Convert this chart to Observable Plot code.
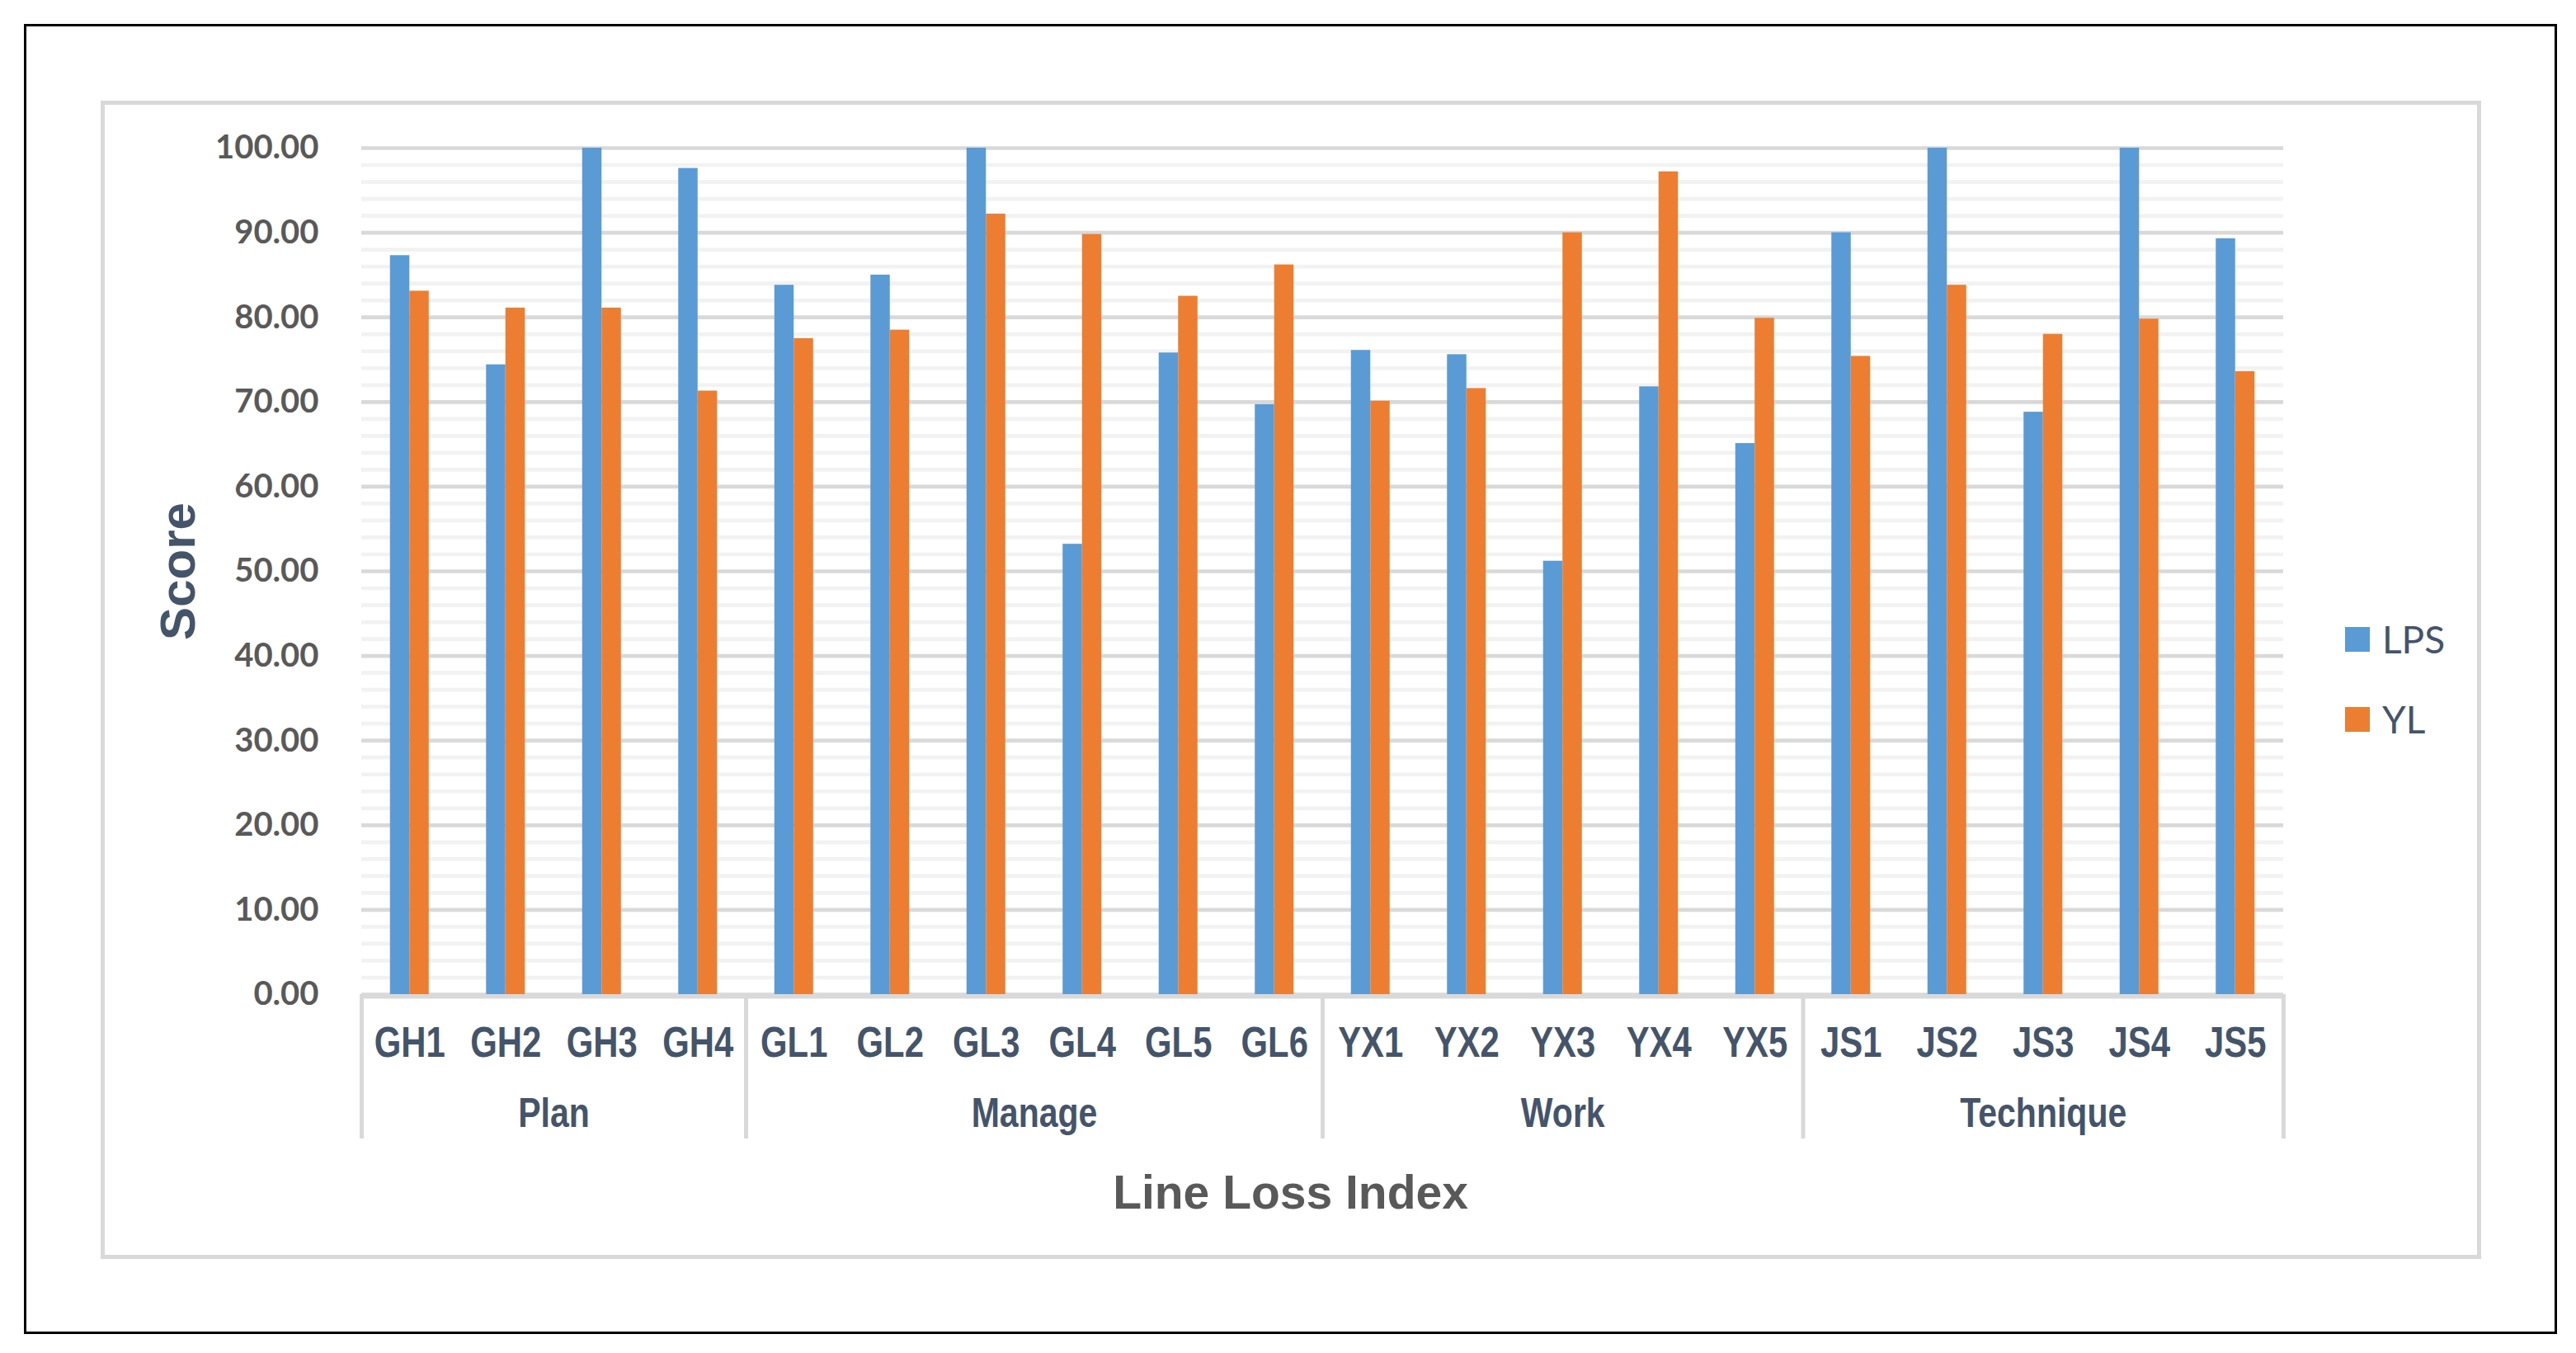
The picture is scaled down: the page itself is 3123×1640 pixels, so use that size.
<!DOCTYPE html>
<html>
<head>
<meta charset="utf-8">
<script src="https://cdn.jsdelivr.net/npm/d3@7"></script>
<script src="https://cdn.jsdelivr.net/npm/@observablehq/plot@0.6"></script>
<style>
  html, body { margin: 0; padding: 0; background: #fff; }
  #page { position: relative; width: 3123px; height: 1640px; overflow: hidden; background: #fff; }
  #outer { position: absolute; left: 29px; top: 29px; width: 3071px; height: 1588px; border: 3px solid #000; box-sizing: border-box; }
  #inner { position: absolute; left: 122px; top: 122px; width: 2886px; height: 1404px; border: 5px solid #d9d9d9; box-sizing: border-box; }
  #chart { position: absolute; left: 0; top: 0; }
  #legend { position: absolute; left: 2843px; top: 751px; font-family: Lato, "Open Sans", sans-serif; font-size: 46px; color: #44546a; }
  .item { display: flex; align-items: center; height: 47px; line-height: 1; margin-bottom: 50px; }
  .sw { width: 30px; height: 30px; margin-right: 15px; }
</style>
</head>
<body>
<div id="page">
  <div id="outer"></div>
  <div id="inner"></div>
  <div id="chart"></div>
  <div id="legend"></div>
</div>
<script>
const categories = ["GH1","GH2","GH3","GH4","GL1","GL2","GL3","GL4","GL5","GL6","YX1","YX2","YX3","YX4","YX5","JS1","JS2","JS3","JS4","JS5"];
const groups = ["Plan","Manage","Work","Technique"];
const groupSizes = [4, 6, 5, 5];
const series = ["LPS", "YL"];
const lps = [87.3, 74.4, 100, 97.6, 83.8, 85.0, 100, 53.2, 75.8, 69.7, 76.1, 75.6, 51.2, 71.8, 65.1, 90.0, 100, 68.8, 100, 89.3];
const yl  = [83.1, 81.1, 81.1, 71.3, 77.5, 78.5, 92.2, 89.8, 82.5, 86.2, 70.1, 71.6, 90.0, 97.2, 79.9, 75.4, 83.8, 78.0, 79.8, 73.6];
const colors = ["#5b9bd5", "#ed7d31"];
const majorTicks = [0, 10, 20, 30, 40, 50, 60, 70, 80, 90, 100];
const minorTicks = d3.range(0, 101, 2).filter(v => v % 10 !== 0);

const table = [];
categories.forEach((c, i) => {
  table.push({category: c, index: i, series: "LPS", value: lps[i], k: 0});
  table.push({category: c, index: i, series: "YL", value: yl[i], k: 1});
});
const barW = 0.2017; // bar width as fraction of a category slot

const groupTable = [];
let start = 0;
groups.forEach((g, j) => {
  groupTable.push({name: g, start, end: start + groupSizes[j]});
  start += groupSizes[j];
});
const boundaries = [0, ...groupTable.map(g => g.end)];

const boldFont = '"Liberation Sans", Arial, sans-serif';

const plot = Plot.plot({
  width: 3123,
  height: 1640,
  marginLeft: 438,
  marginRight: 355,
  marginTop: 179,
  marginBottom: 435,
  x: {domain: [0, categories.length], axis: null},
  y: {domain: [0, 100], axis: null},
  color: {domain: series, range: colors},
  style: {background: "transparent", overflow: "visible"},
  marks: [
    Plot.ruleY(minorTicks, {stroke: "#f2f2f2", strokeWidth: 4.7}),
    Plot.ruleY(majorTicks, {stroke: "#d9d9d9", strokeWidth: 4.7}),
    Plot.rectY(table, {
      x1: d => d.index + 0.5 - barW + d.k * barW,
      x2: d => d.index + 0.5 + d.k * barW,
      y: "value",
      fill: "series"
    }),
    Plot.ruleY([0], {stroke: "#d9d9d9", strokeWidth: 5, dy: 2.5}),
    Plot.ruleX(boundaries, {x: d => d, y1: 0, y2: 0, insetBottom: -175, stroke: "#d9d9d9", strokeWidth: 5}),
    Plot.text(categories, {
      x: (d, i) => i + 0.5, y: 0, text: d => d, dy: 75.7,
      lineAnchor: "bottom", textAnchor: "middle",
      fontFamily: boldFont, fontWeight: "bold", fontSize: 51, fill: "#44546a"
    }),
    Plot.text(groupTable, {
      x: d => (d.start + d.end) / 2, y: 0, text: "name", dy: 160.7,
      lineAnchor: "bottom", textAnchor: "middle",
      fontFamily: boldFont, fontWeight: "bold", fontSize: 50, fill: "#44546a"
    }),
    Plot.text(majorTicks, {
      y: d => d, text: d => d.toFixed(2), frameAnchor: "left", dx: -52,
      textAnchor: "end", lineAnchor: "middle",
      fontFamily: 'Lato, "Open Sans", sans-serif', fontWeight: "bold", fontSize: 40, fill: "#595959"
    }),
    Plot.text(["Score"], {
      text: d => d, frameAnchor: "left", dx: -202.3, rotate: -90,
      textAnchor: "middle", lineAnchor: "bottom",
      fontFamily: boldFont, fontWeight: "bold", fontSize: 60, fill: "#44546a"
    }),
    Plot.text(["Line Loss Index"], {
      text: d => d, frameAnchor: "bottom", dx: -39, dy: 259,
      textAnchor: "middle", lineAnchor: "bottom",
      fontFamily: boldFont, fontWeight: "bold", fontSize: 57, fill: "#595959"
    })
  ]
});
document.getElementById("chart").appendChild(plot);

// Narrow-style labels (the reference uses a condensed face): compress glyphs horizontally
const narrowSet = new Set([...categories, ...groups]);
d3.select(plot).selectAll("text").each(function() {
  if (narrowSet.has(this.textContent)) {
    const w = this.getComputedTextLength();
    this.setAttribute("textLength", (w * 0.82).toFixed(1));
    this.setAttribute("lengthAdjust", "spacingAndGlyphs");
  }
});

// Legend
const legend = document.getElementById("legend");
series.forEach((s, i) => {
  const item = document.createElement("div");
  item.className = "item";
  const sw = document.createElement("div");
  sw.className = "sw";
  sw.style.background = colors[i];
  const lab = document.createElement("span");
  lab.textContent = s;
  item.appendChild(sw);
  item.appendChild(lab);
  legend.appendChild(item);
});
</script>
</body>
</html>
